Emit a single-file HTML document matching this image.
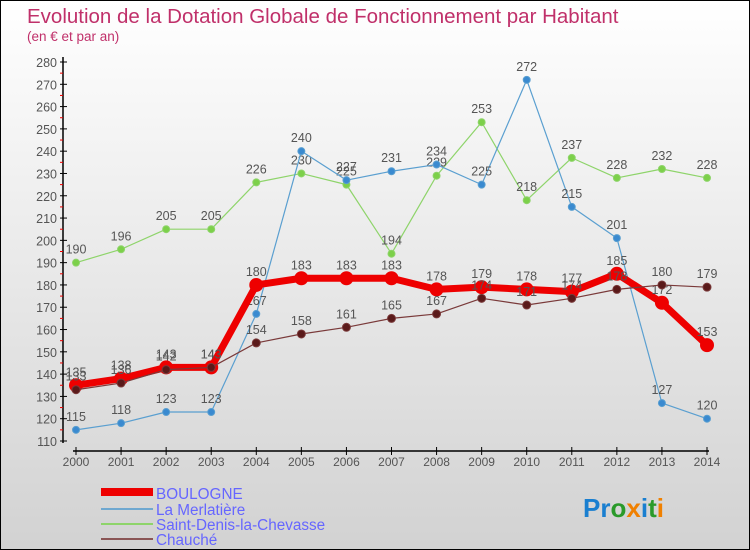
<!DOCTYPE html>
<html><head><meta charset="utf-8"><style>
body{margin:0}
#c{position:relative;width:748px;height:548px;border:1px solid #000;background:linear-gradient(#fff,#d2d2d2);overflow:hidden;font-family:"Liberation Sans",sans-serif}
svg text{font-family:"Liberation Sans",sans-serif}
</style></head><body>
<div id="c">
<svg id="s" width="748" height="548">
<text x="26" y="22" font-size="20.5" fill="#c0306a">Evolution de la Dotation Globale de Fonctionnement par Habitant</text>
<text x="26" y="40" font-size="13.5" fill="#c0306a">(en € et par an)</text>
<g id="axes"></g><g id="series"></g>
<g>
<rect x="100" y="487" width="52" height="8" fill="#e00"/>
<text x="155" y="498" font-size="15.3" fill="#6666ff">BOULOGNE</text>
<line x1="100" y1="508" x2="152" y2="508" stroke="#6fa8d0" stroke-width="2"/>
<text x="155" y="514" font-size="15.3" fill="#6666ff">La Merlatière</text>
<line x1="100" y1="523" x2="152" y2="523" stroke="#8ed46a" stroke-width="2"/>
<text x="155" y="529" font-size="15.3" fill="#6666ff">Saint-Denis-la-Chevasse</text>
<line x1="100" y1="538" x2="152" y2="538" stroke="#8a5555" stroke-width="2"/>
<text x="155" y="544" font-size="15.3" fill="#6666ff">Chauché</text>
</g>
<text x="582" y="516" font-size="26" font-weight="bold"><tspan fill="#1a7fd0">Pr</tspan><tspan fill="#2a9a2a">o</tspan><tspan fill="#f08000">x</tspan><tspan fill="#1a7fd0">i</tspan><tspan fill="#2a9a2a">t</tspan><tspan fill="#f08000">i</tspan></text>
</svg>
</div>
<script>
const years=[2000,2001,2002,2003,2004,2005,2006,2007,2008,2009,2010,2011,2012,2013,2014];
const boulogne=[135,138,143,143,180,183,183,183,178,179,178,177,185,172,153];
const merlatiere=[115,118,123,123,167,240,227,231,234,225,272,215,201,127,120];
const saintDenis=[190,196,205,205,226,230,225,194,229,253,218,237,228,232,228];
const chauche=[133,136,142,143,154,158,161,165,167,174,171,174,178,180,179];
const yTicks=[110,120,130,140,150,160,170,180,190,200,210,220,230,240,250,260,270,280];
const NS="http://www.w3.org/2000/svg";
const x=i=>75+i*(706-75)/14;
const y=v=>440-(v-110)*(440-61)/170;
function mk(t,a,p){const e=document.createElementNS(NS,t);for(const k in a)e.setAttribute(k,a[k]);p.appendChild(e);return e;}
const ax=document.getElementById('axes');
let e=mk('line',{x1:62,y1:56,x2:62,y2:442,stroke:'#000','stroke-width':1.5},ax);

e=mk('line',{x1:72,y1:450,x2:708,y2:450,stroke:'#000','stroke-width':1.5},ax);

yTicks.forEach(v=>{
 mk('line',{x1:59,y1:y(v),x2:66,y2:y(v),stroke:'#000'},ax);
 if(v<280)mk('line',{x1:59,y1:y(v+5),x2:62,y2:y(v+5),stroke:'#e00'},ax);
 const t=mk('text',{x:56,y:y(v)+5,'font-size':12.5,fill:'#555','text-anchor':'end'},ax);t.textContent=v;
 
});
years.forEach((yr,i)=>{
 mk('line',{x1:x(i),y1:446,x2:x(i),y2:454,stroke:'#000'},ax);
 const t=mk('text',{x:x(i),y:465,'font-size':12,fill:'#555','text-anchor':'middle'},ax);t.textContent=yr;
 
});
const sg=document.getElementById('series');
function series(name,vals,col,w,r,dot){
 const g=mk('g',{},sg);
 
 
 mk('polyline',{points:vals.map((v,i)=>x(i)+','+y(v)).join(' '),fill:'none',stroke:col,'stroke-width':w,'stroke-linejoin':'round'},g);
 vals.forEach((v,i)=>{
  const c=mk('circle',{cx:x(i),cy:y(v),r:r,fill:dot,stroke:col,'stroke-width':1},g);
  
  
  const t=mk('text',{x:x(i),y:y(v)-9,'font-size':12.5,fill:'#555','text-anchor':'middle'},g);t.textContent=v;
  
  
 });
}
series('saint-denis',saintDenis,'#8ed46a',1.2,3.5,'#7cd04a');
series('merlatiere',merlatiere,'#5a9fd0',1.2,3.5,'#3a8ad0');
series('boulogne',boulogne,'#ee0000',7,6.5,'#ee0000');
series('chauche',chauche,'#7a3a3a',1.2,4,'#5a1a1a');
</script>
</body></html>
